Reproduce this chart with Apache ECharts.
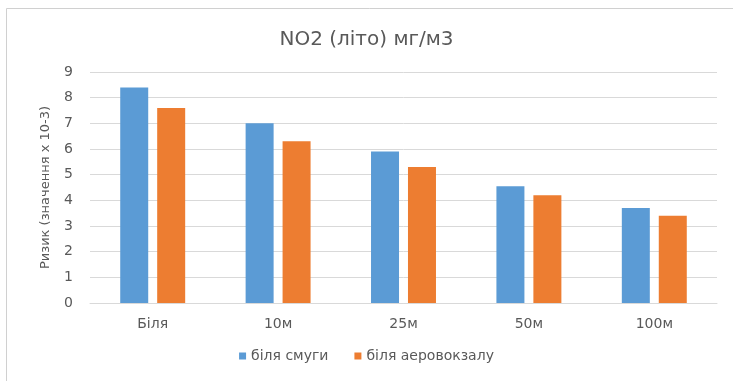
<!DOCTYPE html>
<html>
<head>
<meta charset="utf-8">
<script src="https://cdn.jsdelivr.net/npm/echarts@6/dist/echarts.min.js"></script>
<style>
html,body{margin:0;padding:0;background:#fff;}
#c{width:733px;height:381px;}
</style>
</head>
<body>
<div id="c"></div>
<script>
var categories = ['Біля', '10м', '25м', '50м', '100м'];
var seriesNames = ['біля смуги', 'біля аеровокзалу'];
var nearStrip = [8.4, 7.0, 5.9, 4.55, 3.7];
var nearTerminal = [7.6, 6.3, 5.3, 4.2, 3.4];
var titleText = 'NO2 (літо) мг/м3';
var yAxisName = 'Ризик (значення х 10-3)';

var font = '"DejaVu Sans", "Open Sans", sans-serif';
var chart = echarts.init(document.getElementById('c'));
chart.setOption({
  animation: false,
  backgroundColor: '#fff',
  graphic: [{
    type: 'polyline',
    shape: { points: [[6.5, 381], [6.5, 8.5], [733, 8.5]] },
    style: { stroke: '#d0d0d0', fill: null, lineWidth: 1 }
  }],
  title: {
    text: titleText,
    left: 'center',
    top: 25,
    textStyle: { fontFamily: font, fontSize: 20, fontWeight: 'normal', color: '#595959' }
  },
  grid: { left: 90, right: 16, top: 72, bottom: 78 },
  legend: {
    data: seriesNames,
    bottom: 13,
    left: 'center',
    itemWidth: 7,
    itemHeight: 7,
    itemGap: 26,
    icon: 'rect',
    textStyle: { fontFamily: font, fontSize: 14, color: '#595959' }
  },
  xAxis: {
    type: 'category',
    data: categories,
    axisLine: { lineStyle: { color: '#d9d9d9' } },
    axisTick: { show: false },
    axisLabel: { fontFamily: font, fontSize: 14, color: '#595959', margin: 14 }
  },
  yAxis: {
    type: 'value',
    min: 0,
    max: 9,
    interval: 1,
    name: yAxisName,
    nameLocation: 'middle',
    nameRotate: 90,
    nameGap: 38,
    nameTextStyle: { fontFamily: font, fontSize: 13, color: '#595959' },
    axisLine: { show: false },
    axisTick: { show: false },
    axisLabel: { fontFamily: font, fontSize: 14, color: '#595959', margin: 17 },
    splitLine: { lineStyle: { color: '#d9d9d9' } }
  },
  series: [
    { name: seriesNames[0], type: 'bar', data: nearStrip, barWidth: 28, barGap: '32%', itemStyle: { color: '#5b9bd5' } },
    { name: seriesNames[1], type: 'bar', data: nearTerminal, barWidth: 28, barGap: '32%', itemStyle: { color: '#ed7d31' } }
  ]
});
</script>
</body>
</html>
